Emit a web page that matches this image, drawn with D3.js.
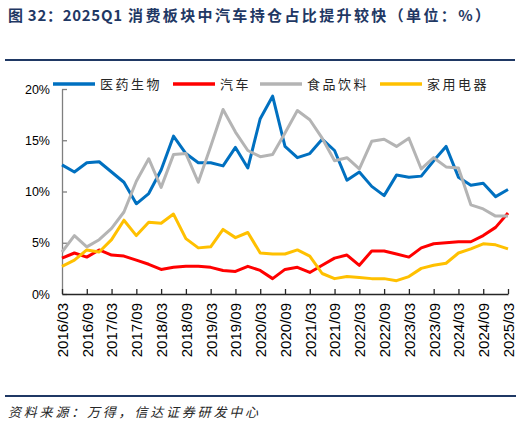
<!DOCTYPE html>
<html>
<head>
<meta charset="utf-8">
<script src="https://cdn.jsdelivr.net/npm/d3@7"></script>
<style>
  body { margin: 0; background: #fff; }
  svg { display: block; }
  .tick text { font-family: "Liberation Sans", Arial, sans-serif; fill: #000; }
</style>
</head>
<body>
<svg id="chart"></svg>
<script>
const quarters = [
  '2016/03', '2016/06', '2016/09', '2016/12',
  '2017/03', '2017/06', '2017/09', '2017/12',
  '2018/03', '2018/06', '2018/09', '2018/12',
  '2019/03', '2019/06', '2019/09', '2019/12',
  '2020/03', '2020/06', '2020/09', '2020/12',
  '2021/03', '2021/06', '2021/09', '2021/12',
  '2022/03', '2022/06', '2022/09', '2022/12',
  '2023/03', '2023/06', '2023/09', '2023/12',
  '2024/03', '2024/06', '2024/09', '2024/12',
  '2025/03'];

// 持仓占比 (%)
const pharma = [12.6, 11.9, 12.8, 12.9, 11.9, 10.9, 8.8, 9.8, 12.1, 15.4,
  13.7, 12.8, 12.8, 12.5, 14.3, 12.3, 17.1, 19.3, 14.4, 13.3,
  13.7, 15.1, 14.0, 11.1, 11.9, 10.5, 9.6, 11.6, 11.4, 11.5,
  13.0, 14.4, 11.4, 10.6, 10.8, 9.5, 10.2];
const auto = [3.5, 4.0, 3.6, 4.3, 3.8, 3.7, 3.3, 2.9, 2.4, 2.6,
  2.7, 2.7, 2.6, 2.3, 2.2, 2.7, 2.3, 1.5, 2.4, 2.6,
  2.1, 2.8, 3.5, 3.8, 2.8, 4.2, 4.2, 3.9, 3.6, 4.5,
  4.9, 5.0, 5.1, 5.1, 5.7, 6.5, 7.9];
const foodBev = [4.1, 5.7, 4.6, 5.3, 6.4, 8.0, 11.0, 13.2, 10.4, 13.6,
  13.7, 10.9, 14.4, 18.0, 15.8, 14.0, 13.4, 13.6, 15.7, 17.9,
  17.0, 15.2, 13.0, 13.3, 12.2, 14.9, 15.1, 14.4, 15.2, 12.2,
  13.3, 12.4, 12.3, 8.7, 8.3, 7.6, 7.6];
const appliance = [2.7, 3.3, 4.3, 4.1, 5.3, 7.2, 5.7, 7.0, 6.9, 7.8,
  5.4, 4.5, 4.6, 6.3, 5.5, 6.0, 4.0, 3.9, 3.9, 4.3,
  3.7, 2.0, 1.5, 1.7, 1.6, 1.5, 1.5, 1.3, 1.7, 2.5,
  2.8, 3.0, 4.0, 4.4, 4.9, 4.8, 4.4];

const seriesNames = ['医药生物', '汽车', '食品饮料', '家用电器'];
const yTicks = [0, 5, 10, 15, 20];

const width = 521;
const height = 426;
const navy = '#1f3864';
const cjk = '"Noto Sans CJK SC", "Noto Sans", sans-serif';
const colors = ['#0070c0', '#ff0000', '#b4b4b4', '#ffc000'];

const series = [pharma, auto, foodBev, appliance].map(function (vals, i) {
  return { name: seriesNames[i], color: colors[i], values: vals };
});

const svg = d3.select('#chart').
attr('width', width).
attr('height', height);

// title, in two pieces so the CJK part can be spread out like the original
const titleParts = [
  { text: '图 32：2025Q1', x: 8, len: 114 },
  { text: '消费板块中汽车持仓占比提升较快（单位：%）', x: 128, len: 362 }];
svg.selectAll('.title').
data(titleParts).
enter().
append('text').
attr('class', 'title').
attr('x', d => d.x).
attr('y', 21).
attr('textLength', d => d.len).
attr('lengthAdjust', 'spacing').
text(d => d.text).
style('font-family', cjk).
style('font-size', '15px').
style('font-weight', 'bold').
style('fill', navy);

svg.append('line').
attr('x1', 5).attr('x2', 515).
attr('y1', 60).attr('y2', 60).
style('stroke', navy).
style('stroke-width', 2);

const x = d3.scalePoint().
domain(quarters).
range([62, 508]);

const y = d3.scaleLinear().
domain([0, 20]).
range([294, 89]);

// y axis
const yAxis = svg.append('g').
attr('transform', 'translate(62,0)').
call(d3.axisLeft(y).
tickValues(yTicks).
tickFormat(d => d + '%').
tickSize(-5).
tickSizeOuter(0).
tickPadding(12));
yAxis.selectAll('path, line').style('stroke', '#7f7f7f').style('stroke-width', 1.3);
yAxis.selectAll('text').style('font-size', '12.5px');

// x axis
const xAxis = svg.append('g').
attr('transform', 'translate(0,294)').
call(d3.axisBottom(x).
tickValues(quarters.filter((d, i) => i % 2 === 0)).
tickSize(-5).
tickSizeOuter(0));
xAxis.selectAll('path, line').style('stroke', '#262626').style('stroke-width', 1.3);
xAxis.selectAll('text').
attr('transform', 'rotate(-90)').
attr('x', -9).
attr('y', 0).
attr('dy', '0.36em').
style('text-anchor', 'end').
style('font-size', '15px');

// lines
const line = d3.line().
x((d, i) => x(quarters[i])).
y(d => y(d));

svg.selectAll('.series').
data(series).
enter().
append('path').
attr('class', 'series').
attr('d', d => line(d.values)).
style('fill', 'none').
style('stroke', d => d.color).
style('stroke-width', 3).
style('stroke-linejoin', 'round');

// legend
const legendX = [53, 173, 260, 380];
const legend = svg.selectAll('.legend-item').
data(series).
enter().
append('g').
attr('class', 'legend-item').
attr('transform', (d, i) => 'translate(' + legendX[i] + ',84)');

legend.append('line').
attr('x1', 0).attr('x2', 42).
style('stroke', d => d.color).
style('stroke-width', 3.5);

legend.append('text').
attr('x', 47).
attr('dy', '0.36em').
text(d => d.name).
style('font-family', cjk).
style('font-size', '13px').
style('letter-spacing', '2.5px').
style('fill', '#262626');

// source
svg.append('line').
attr('x1', 5).attr('x2', 516).
attr('y1', 396).attr('y2', 396).
style('stroke', navy).
style('stroke-width', 2);

svg.append('text').
attr('x', 8).
attr('y', 417).
text('资料来源：万得，信达证券研发中心').
style('font-family', cjk).
style('font-size', '13px').
style('font-style', 'italic').
style('letter-spacing', '2.8px').
style('fill', '#262626');
</script>
</body>
</html>
